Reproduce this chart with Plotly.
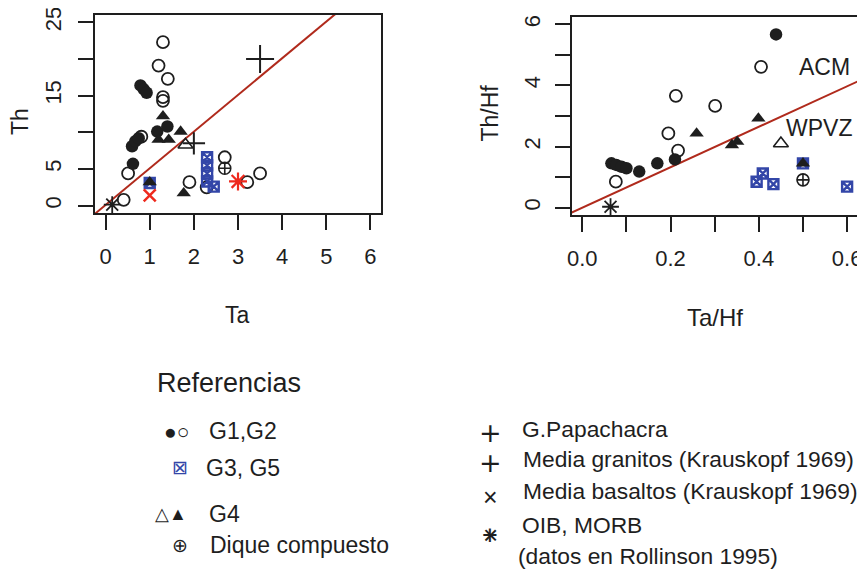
import plotly.graph_objects as go

# ---------------- data: left panel (Ta vs Th) ----------------
g1_ta = [0.79, 0.86, 0.93, 0.60, 0.675, 0.75, 0.62, 1.17, 1.40]
g1_th = [16.4, 15.9, 15.4, 8.1, 8.8, 9.2, 5.7, 10.1, 10.8]
g2_ta = [1.30, 1.20, 1.41, 1.30, 1.30, 0.81, 0.51, 0.41, 1.90, 2.29, 2.70, 3.21, 3.50]
g2_th = [22.3, 19.1, 17.3, 14.8, 14.3, 9.4, 4.4, 0.8, 3.2, 2.5, 6.6, 3.2, 4.4]
g35_ta = [2.30, 2.30, 2.30, 2.30, 2.45, 1.00]
g35_th = [6.6, 5.5, 4.4, 3.3, 2.6, 3.1]
g4f_ta = [1.30, 1.20, 1.43, 1.70, 1.00, 1.77]
g4f_th = [12.2, 9.0, 9.0, 10.1, 3.2, 1.7]
g4o_ta = [1.81]
g4o_th = [8.3]
dique_ta = [2.70]
dique_th = [5.1]
papa_ta = [2.0]
papa_th = [8.5]
gran_ta = [3.5]
gran_th = [20.0]
basal_ta = [1.0]
basal_th = [1.4]
oib_ta = [3.0]
oib_th = [3.3]
morb_ta = [0.15]
morb_th = [0.15]
left_slope, left_icpt = 5.0, 0.1

# ---------------- data: right panel (Ta/Hf vs Th/Hf) ----------------
g1r_x = [0.439, 0.066, 0.077, 0.089, 0.100, 0.129, 0.170, 0.210]
g1r_y = [5.67, 1.45, 1.40, 1.34, 1.29, 1.18, 1.45, 1.58]
g2r_x = [0.405, 0.212, 0.301, 0.195, 0.217, 0.076]
g2r_y = [4.61, 3.66, 3.33, 2.43, 1.87, 0.85]
g35r_x = [0.395, 0.409, 0.433, 0.500, 0.600]
g35r_y = [0.85, 1.12, 0.77, 1.45, 0.69]
g4fr_x = [0.259, 0.339, 0.351, 0.399, 0.500]
g4fr_y = [2.43, 2.05, 2.16, 2.92, 1.45]
g4or_x = [0.450]
g4or_y = [2.10]
diquer_x = [0.50]
diquer_y = [0.91]
morbr_x = [0.064]
morbr_y = [0.03]
right_slope, right_icpt = 6.62, 0.0

# page has an 8px body margin; the figure is sized to fill the rest of the window
OFF = 8
W, H = 865 - OFF, 576 - OFF
INK = "#1e1e1e"
BLUE = "#3346a8"
RED = "#ee2a1e"
LINE = "#b02a1c"
FONT = "Liberation Sans, Arial, sans-serif"
GLYPH = "DejaVu Sans, sans-serif"


def px(v):
    return (v - OFF) / W


def py(v):
    return 1 - (v - OFF) / H


fig = go.Figure()


def add(x, y, symbol, size, color, lw, xa, ya):
    mk = dict(symbol=symbol, size=size, color=color, line=dict(color=color, width=lw))
    fig.add_trace(go.Scatter(x=x, y=y, mode="markers", marker=mk,
                             xaxis=xa, yaxis=ya, showlegend=False, hoverinfo="skip"))


# reference lines
lx = [-1, 7]
fig.add_trace(go.Scatter(x=lx, y=[left_icpt + left_slope * v for v in lx], mode="lines",
                         line=dict(color=LINE, width=2), xaxis="x", yaxis="y",
                         showlegend=False, hoverinfo="skip"))
rx = [-0.1, 0.7]
fig.add_trace(go.Scatter(x=rx, y=[right_icpt + right_slope * v for v in rx], mode="lines",
                         line=dict(color=LINE, width=2), xaxis="x2", yaxis="y2",
                         showlegend=False, hoverinfo="skip"))

# left panel
add(g2_ta, g2_th, "circle-open", 12, INK, 1.8, "x", "y")
add(g1_ta, g1_th, "circle", 12.5, INK, 0, "x", "y")
add(g35_ta, g35_th, "square-x-open", 10, BLUE, 2.4, "x", "y")
add(g4f_ta, g4f_th, "triangle-up", 12.5, INK, 0, "x", "y")
add(g4o_ta, g4o_th, "triangle-up-open", 13, INK, 1.6, "x", "y")
add(dique_ta, dique_th, "circle-cross-open", 12, INK, 1.6, "x", "y")
add(papa_ta, papa_th, "cross-thin-open", 16, INK, 2, "x", "y")
add(gran_ta, gran_th, "cross-thin-open", 20, INK, 2, "x", "y")
add(basal_ta, basal_th, "x-thin-open", 12, RED, 2.5, "x", "y")
add(oib_ta, oib_th, "asterisk-open", 15, RED, 2.2, "x", "y")
add(morb_ta, morb_th, "asterisk-open", 14, INK, 1.8, "x", "y")

# right panel
add(g2r_x, g2r_y, "circle-open", 12, INK, 1.8, "x2", "y2")
add(g1r_x, g1r_y, "circle", 12.5, INK, 0, "x2", "y2")
add(g35r_x, g35r_y, "square-x-open", 10, BLUE, 2.4, "x2", "y2")
add(g4fr_x, g4fr_y, "triangle-up", 12.5, INK, 0, "x2", "y2")
add(g4or_x, g4or_y, "triangle-up-open", 13, INK, 1.6, "x2", "y2")
add(diquer_x, diquer_y, "circle-cross-open", 12, INK, 1.6, "x2", "y2")
add(morbr_x, morbr_y, "asterisk-open", 14, INK, 1.8, "x2", "y2")

axis_common = dict(showgrid=False, zeroline=False, showline=True, linewidth=2,
                   linecolor=INK, mirror=True, ticks="outside", ticklen=15,
                   tickwidth=2, tickcolor=INK, automargin=False,
                   ticklabeloverflow="allow",
                   tickfont=dict(family=FONT, size=22, color=INK))

fig.update_layout(
    width=W, height=H,
    margin=dict(l=0, r=0, t=0, b=0, autoexpand=False),
    paper_bgcolor="white", plot_bgcolor="white",
    font=dict(family=FONT, color=INK),
    xaxis=dict(axis_common, domain=[px(95), px(381)], range=[-0.24, 6.24],
               tickvals=[0, 1, 2, 3, 4, 5, 6], ticklabelstandoff=8, anchor="y"),
    yaxis=dict(axis_common, domain=[py(213), py(15)], range=[-1, 26],
               tickvals=[0, 5, 10, 15, 20, 25], ticktext=["0", "5", "", "15", "", "25"],
               tickangle=-90, ticklabelstandoff=8, anchor="x"),
    xaxis2=dict(axis_common, domain=[px(571.7), px(857.7)], range=[-0.024, 0.624],
                tickvals=[0, 0.1, 0.2, 0.3, 0.4, 0.5, 0.6],
                ticktext=["0.0", "", "0.2", "", "0.4", "", "0.6"],
                ticklabelstandoff=8, anchor="y2"),
    yaxis2=dict(axis_common, domain=[py(215), py(17)], range=[-0.24, 6.24],
                tickvals=[0, 1, 2, 3, 4, 5, 6], ticktext=["0", "", "2", "", "4", "", "6"],
                tickangle=-90, ticklabelstandoff=6, anchor="x2"),
)

ann = []


def txt(x, y, s, size=23, xanchor="left", angle=0, color=INK, xref="paper", yref="paper",
        conv=True, family=FONT):
    ann.append(dict(x=px(x) if conv else x, y=py(y) if conv else y, xref=xref, yref=yref,
                    text=s, showarrow=False, xanchor=xanchor, yanchor="middle",
                    textangle=angle, font=dict(family=family, size=size, color=color)))


# axis titles
txt(237.5, 315, "Ta", xanchor="center")
txt(19.5, 121.5, "Th", xanchor="center", angle=-90)
txt(715, 317, "Ta/Hf", xanchor="center", size=24)
txt(490, 113.5, "Th/Hf", xanchor="center", angle=-90)
# region labels
txt(0.612, 4.6, "ACM", xanchor="right", xref="x2", yref="y2", conv=False)
txt(0.615, 2.6, "WPVZ", xanchor="right", xref="x2", yref="y2", conv=False)

# legend (left block)
txt(155, 383, "Referencias", size=27)
txt(176, 431, "●○", size=21, xanchor="center")
txt(207, 431, "G1,G2")
txt(180, 467, "⊠", size=19, xanchor="center", color=BLUE)
txt(204, 468, "G3, G5")
txt(171, 514, "△▲", size=18, xanchor="center")
txt(207, 514, "G4")
txt(179.5, 545, "⊕", size=19, xanchor="center")
txt(208, 545, "Dique compuesto")

# legend (right block)
txt(490, 432, "+", size=27, xanchor="center", family=GLYPH)
txt(520, 429, "G.Papachacra", size=22.8)
txt(490, 462, "+", size=27, xanchor="center", family=GLYPH)
txt(521, 459, "Media granitos (Krauskopf 1969)", size=22.8)
txt(490, 497, "×", size=25, xanchor="center")
txt(521, 491, "Media basaltos (Krauskopf 1969)", size=22.8)
txt(490, 535, "+", size=27, xanchor="center")
txt(490, 535, "×", size=26, xanchor="center")
txt(520, 525, "OIB, MORB", size=22.8)
txt(516, 556, "(datos en Rollinson 1995)", size=22.8)

fig.update_layout(annotations=ann)
fig.write_html("out.html")
